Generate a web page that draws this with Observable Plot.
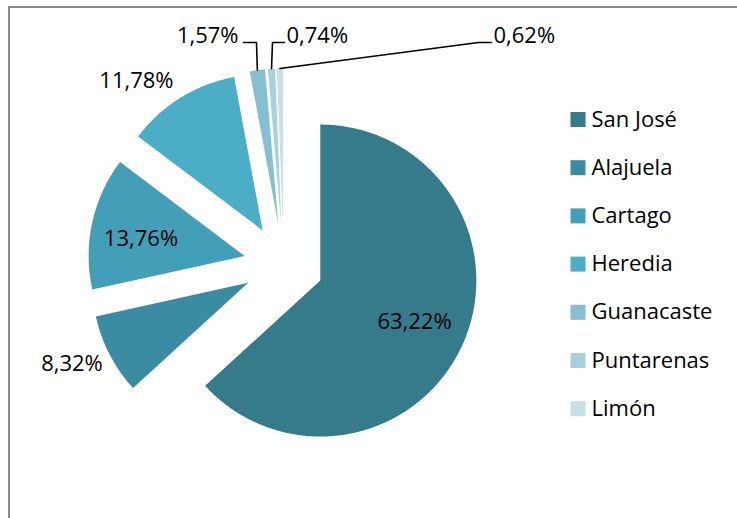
<!DOCTYPE html>
<html><head><meta charset="utf-8">
<script src="https://cdn.jsdelivr.net/npm/d3@7"></script>
<script src="https://cdn.jsdelivr.net/npm/@observablehq/plot@0.6"></script>
<style>
html,body{margin:0;padding:0;background:#fff;overflow:hidden;}
#wrap{position:relative;width:737px;height:518px;overflow:hidden;}
#frame{position:absolute;left:8px;top:6px;width:800px;height:600px;border-top:2px solid #8a8a8a;border-left:2px solid #8a8a8a;pointer-events:none;}
</style></head><body>
<div id="wrap"><div id="chart"></div><div id="frame"></div></div>
<script>
// ---- data ----
const provinces = ["San José","Alajuela","Cartago","Heredia","Guanacaste","Puntarenas","Limón"];
const shares = [63.22, 8.32, 13.76, 11.78, 1.57, 0.74, 0.62];
const shareLabels = ["63,22%","8,32%","13,76%","11,78%","1,57%","0,74%","0,62%"];
const sliceColors = ["#357b8c","#3b8ca2","#439fb7","#4badc6","#86bfd2","#a9d0de","#c6e0e9"];

// ---- layout ----
const layout = {
  cx: 283.2, cy: 263.9, r: 156, explode: 40,
  labelMode: ["inside","outside","inside","outside","leaderL","leaderR","leaderR"],
  insideK: [0.66, null, 0.68, null],
  leaderY: 42,
  leaderElbowX: [null,null,null,null,256,272,478],
  leaderEndX:   [null,null,null,null,243,284,491],
  legendX: 577.5, legendY0: 119, legendStep: 48.2, legendTextX: 591,
  fontSize: 22
};

const pie = d3.pie().sort(null).value(d => d.share).startAngle(0).endAngle(2*Math.PI);
const rows = provinces.map((name,i)=>({name, share: shares[i], label: shareLabels[i], i}));
const arcs = pie(rows);

const slicePts = [];
const textLabels = [];
const leaderPts = [];
arcs.forEach(a => {
  const mid = (a.startAngle + a.endAngle)/2;
  const dx = Math.sin(mid), dy = -Math.cos(mid);
  const ax = layout.cx + layout.explode*dx, ay = layout.cy + layout.explode*dy;
  const name = a.data.name, i = a.data.i;
  slicePts.push({name, x: ax, y: ay});
  const n = Math.max(2, Math.ceil((a.endAngle - a.startAngle)/(Math.PI/360)));
  for (let k=0;k<=n;k++){
    const t = a.startAngle + (a.endAngle - a.startAngle)*k/n;
    slicePts.push({name, x: ax + layout.r*Math.sin(t), y: ay - layout.r*Math.cos(t)});
  }
  const ex = ax + layout.r*dx, ey = ay + layout.r*dy;
  const mode = layout.labelMode[i];
  if (mode === "inside") {
    const k = layout.insideK[i];
    textLabels.push({text: a.data.label, x: ax + k*layout.r*dx, y: ay + k*layout.r*dy + (dy < 0 ? 6 : 0), anchor:"middle"});
  } else if (mode === "outside") {
    textLabels.push({text: a.data.label, x: ex - 7, y: ey + dy*20, anchor: dx < 0 ? "end" : "start"});
  } else {
    const ely = layout.leaderY;
    const elx = layout.leaderElbowX[i], endx = layout.leaderEndX[i];
    leaderPts.push({name, x: ex, y: ey}, {name, x: elx, y: ely}, {name, x: endx, y: ely});
    if (mode === "leaderL") textLabels.push({text: a.data.label, x: endx - 5, y: ely - 7, anchor:"end"});
    else textLabels.push({text: a.data.label, x: endx + 2, y: ely - 7, anchor:"start"});
  }
});

const chart = Plot.plot({
  width: 737, height: 518, margin: 0,
  x: {domain:[0,737], range:[0,737], axis:null},
  y: {domain:[0,518], range:[0,518], axis:null},
  color: {domain: provinces, range: sliceColors},
  style: {fontFamily: "'Open Sans', sans-serif", fontSize: layout.fontSize + "px", background: "transparent", color:"#000"},
  marks: [
    Plot.line(slicePts, {x:"x", y:"y", z:"name", fill:"name", stroke:"none", curve:"linear-closed"}),
    Plot.line(leaderPts, {x:"x", y:"y", z:"name", stroke:"#000", strokeWidth:1.6, curve:"linear"}),
    ...["start","middle","end"].map(an => Plot.text(textLabels.filter(d=>d.anchor===an), {x:"x", y:"y", text:"text", textAnchor: an, fill:"#000", fontSize: layout.fontSize})),
    Plot.dot(provinces, {x: () => layout.legendX, y: (d,i) => layout.legendY0 + i*layout.legendStep, symbol:"square", r: 15/Math.sqrt(Math.PI), fill: d => d, stroke:"none"}),
    Plot.text(provinces, {x: () => layout.legendTextX, y: (d,i) => layout.legendY0 + i*layout.legendStep, text: d => d, textAnchor:"start", fill:"#000", fontSize: layout.fontSize})
  ]
});
document.getElementById("chart").appendChild(chart);
</script>
</body></html>
